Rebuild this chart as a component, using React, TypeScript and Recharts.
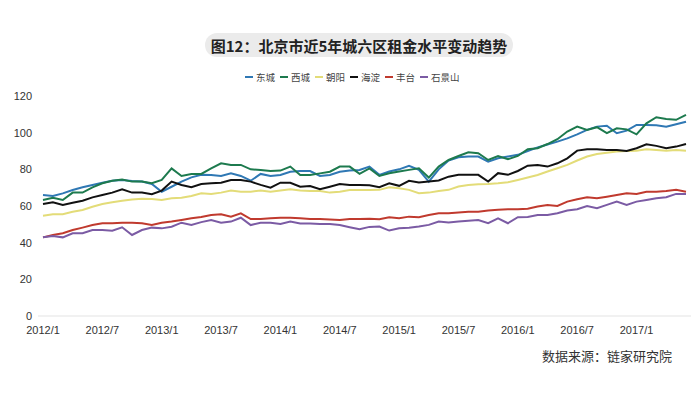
import React from 'react';
import { LineChart, Line, XAxis, YAxis } from 'recharts';

const months = [
  '2012/1', '2012/2', '2012/3', '2012/4', '2012/5', '2012/6', '2012/7', '2012/8', '2012/9', '2012/10', '2012/11', '2012/12',
  '2013/1', '2013/2', '2013/3', '2013/4', '2013/5', '2013/6', '2013/7', '2013/8', '2013/9', '2013/10', '2013/11', '2013/12',
  '2014/1', '2014/2', '2014/3', '2014/4', '2014/5', '2014/6', '2014/7', '2014/8', '2014/9', '2014/10', '2014/11', '2014/12',
  '2015/1', '2015/2', '2015/3', '2015/4', '2015/5', '2015/6', '2015/7', '2015/8', '2015/9', '2015/10', '2015/11', '2015/12',
  '2016/1', '2016/2', '2016/3', '2016/4', '2016/5', '2016/6', '2016/7', '2016/8', '2016/9', '2016/10', '2016/11', '2016/12',
  '2017/1', '2017/2', '2017/3', '2017/4', '2017/5', '2017/6',
];

const dongcheng = [
  66, 65.5, 66.9, 68.7, 70.2, 71.5, 72.7, 73.8, 74.2, 73.6, 73.3, 72, 67.8, 70.5, 73.3, 75.6, 77,
  76.9, 76.4, 77.8, 76.4, 73.8, 77.5, 76.4, 76.9, 78.7, 79.1, 79.1, 76.4, 76.9, 78.7, 79.3, 79.6, 81.5,
  77, 78.8, 80, 81.9, 79.7, 73.3, 80, 84.8, 86.6, 87, 87, 84.2, 86, 87, 87.9, 90,
  92, 93.5, 95.1, 96.9, 99.1, 101.5, 103.3, 103.8, 99.7, 101.1, 104.2, 104.2, 104, 103.3, 104.6, 106,
];
const xicheng = [
  63.3, 64.5, 63.3, 67.3, 67.3, 70.2, 72.4, 73.8, 74.5, 73.3, 73.3, 72.4, 74.2, 80.5, 76.4, 77.5, 77.5,
  80.5, 83.3, 82.4, 82.4, 80, 79.6, 79.1, 79.3, 81.5, 76.9, 76.9, 77.8, 78.7, 81.5, 81.5, 77.5, 80.5,
  76.4, 77.9, 78.8, 79.7, 80.6, 75.5, 81.5, 85.1, 87.3, 89.3, 88.8, 85.1, 87.3, 85.5, 87.3, 91,
  91.5, 93.8, 96.4, 100.6, 103.3, 101.5, 103, 99.7, 102.4, 101.8, 99.1, 105.1, 108.4, 107.5, 107, 109.7,
];
const chaoyang = [
  54.7, 55.5, 55.5, 56.9, 57.8, 59.6, 61.1, 62, 62.9, 63.6, 64, 63.8, 63.3, 64.2, 64.5, 65.5, 66.9,
  66.5, 67.3, 68.4, 67.8, 67.8, 68.4, 67.8, 68.4, 69.1, 68.4, 68.2, 68.2, 67.3, 67.8, 68.7, 68.7, 68.7,
  68.8, 70.2, 69.7, 68.8, 67, 67.3, 68.2, 68.8, 70.6, 71.5, 71.9, 72, 72.4, 73, 74.2, 75.5,
  76.9, 78.8, 80.6, 82.4, 84.8, 87, 88.4, 89.1, 89.7, 90, 90.2, 90.9, 90.6, 90.2, 90.6, 90.2,
];
const haidian = [
  61.1, 62, 60.6, 61.8, 62.9, 64.7, 66, 67.3, 69.1, 67.3, 67.3, 66.4, 68.4, 73.3, 71.5, 70.2, 72,
  72.4, 72.7, 74.2, 74.2, 73.3, 71.5, 70, 72.7, 72.7, 70.5, 70.9, 69.1, 70.5, 72, 71.5, 71.5, 71.3,
  70.2, 72.4, 71, 73.7, 72.8, 73.3, 73.9, 76, 77, 77, 77, 73.3, 77.9, 77, 79.1, 82,
  82.4, 81.5, 83.3, 86, 90.2, 90.9, 90.9, 90.6, 90.6, 90, 91.5, 93.7, 92.8, 91.5, 92.4, 93.8,
];
const fengtai = [
  42.9, 44.2, 45.1, 46.9, 48.2, 49.6, 50.6, 50.6, 50.9, 50.9, 50.6, 49.6, 50.9, 51.5, 52.4, 53.3, 54,
  55.1, 55.5, 54.2, 56, 52.9, 52.9, 53.3, 53.6, 53.6, 53.3, 52.9, 52.9, 52.7, 52.4, 52.9, 52.9, 53,
  52.8, 53.9, 53.3, 54.2, 53.9, 55.1, 56, 56, 56.4, 56.9, 56.9, 57.5, 57.9, 58.2, 58.2, 58.5,
  59.7, 60.6, 60, 62.4, 63.7, 64.8, 64.2, 65.1, 66, 66.9, 66.6, 67.8, 67.8, 68.2, 68.8, 67.8,
];
const shijingshan = [
  42.9, 43.6, 42.9, 45.1, 45.1, 46.9, 46.9, 46.5, 48.4, 44.2, 46.9, 48.2, 47.8, 48.7, 50.9, 49.6, 51.2,
  52.4, 50.9, 51.5, 53.6, 49.6, 50.9, 50.9, 50.2, 51.5, 50.5, 50.5, 50.2, 50.2, 49.6, 48.4, 47.3, 48.6,
  48.8, 46.6, 47.9, 48.2, 48.8, 49.7, 51.5, 51, 51.5, 52, 52.4, 50.6, 53.3, 50.6, 53.9, 54,
  55.1, 55.1, 56, 57.5, 58.2, 60, 58.8, 60.6, 62.4, 60.6, 62.4, 63.3, 64.2, 64.8, 66.6, 66.6,
];

const yTicks = [0, 20, 40, 60, 80, 100, 120];

const series = [
  { name: '东城', color: '#2f78b4', values: dongcheng },
  { name: '西城', color: '#1d7a4e', values: xicheng },
  { name: '朝阳', color: '#e3dc78', values: chaoyang },
  { name: '海淀', color: '#111111', values: haidian },
  { name: '丰台', color: '#c03a2e', values: fengtai },
  { name: '石景山', color: '#7b5ba4', values: shijingshan },
];

const data = months.map((m, i) => {
  const row: Record<string, string | number> = { month: m };
  series.forEach((s) => {
    row[s.name] = s.values[i];
  });
  return row;
});

const cjk = '"Noto Sans CJK SC", "Noto Sans", sans-serif';

export default function App() {
  return (
    <div
      style={{
        position: 'absolute',
        left: 0,
        top: 0,
        width: 700,
        height: 394,
        background: '#ffffff',
        overflow: 'hidden',
      }}
    >
      <div
        style={{
          position: 'absolute',
          left: 205,
          top: 33,
          width: 308,
          height: 24,
          borderRadius: 12,
          background: '#ebebeb',
          display: 'flex',
          alignItems: 'center',
          justifyContent: 'center',
          fontFamily: cjk,
          fontWeight: 700,
          fontSize: 15,
          color: '#222',
          whiteSpace: 'nowrap',
        }}
      >
        图12：北京市近5年城六区租金水平变动趋势
      </div>

      <div
        style={{
          position: 'absolute',
          left: 245,
          top: 70,
          height: 14,
          display: 'flex',
          alignItems: 'center',
          gap: 5,
          fontFamily: cjk,
          fontSize: 9.5,
          color: '#444',
          whiteSpace: 'nowrap',
        }}
      >
        {series.map((s) => (
          <div key={s.name} style={{ display: 'flex', alignItems: 'center' }}>
            <span
              style={{
                display: 'inline-block',
                width: 8,
                height: 2,
                background: s.color,
                marginRight: 3,
              }}
            />
            <span>{s.name}</span>
          </div>
        ))}
      </div>

      <LineChart
        width={700}
        height={394}
        data={data}
        margin={{ top: 96, right: 9, bottom: 48, left: 0 }}
      >
        <XAxis
          dataKey="month"
          interval={5}
          padding={{ left: 5, right: 5 }}
          axisLine={{ stroke: '#e3e3e3' }}
          tickLine={false}
          tickMargin={4}
          height={30}
          tick={{ fill: '#333', fontSize: 11, fontFamily: '"Liberation Sans", Arial, sans-serif' }}
        />
        <YAxis
          domain={[0, 120]}
          ticks={yTicks}
          axisLine={false}
          tickLine={false}
          tickSize={6}
          tickMargin={0}
          width={38}
          tick={{ fill: '#333', fontSize: 11, fontFamily: '"Liberation Sans", Arial, sans-serif' }}
        />
        {series.map((s) => (
          <Line
            key={s.name}
            type="linear"
            dataKey={s.name}
            stroke={s.color}
            strokeWidth={2}
            dot={false}
            isAnimationActive={false}
          />
        ))}
      </LineChart>

      <div
        style={{
          position: 'absolute',
          right: 28,
          top: 346,
          fontFamily: cjk,
          fontSize: 13,
          color: '#333',
          whiteSpace: 'nowrap',
        }}
      >
        数据来源：链家研究院
      </div>
    </div>
  );
}
